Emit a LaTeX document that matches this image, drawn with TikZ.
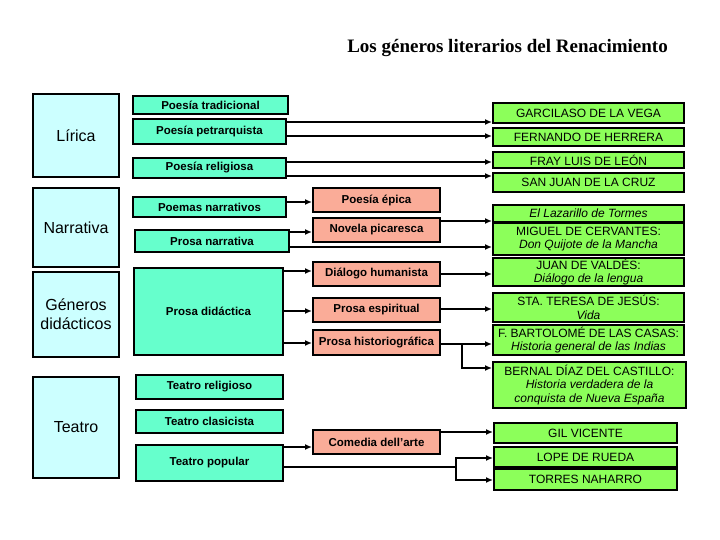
\documentclass[tikz,border=0pt]{standalone}
\usepackage{fontspec}
\setmainfont{Liberation Sans}
\newfontfamily\titlefont{Liberation Serif}
\usetikzlibrary{arrows.meta}
\definecolor{genrefill}{RGB}{204,255,255}
\definecolor{subfill}{RGB}{102,255,204}
\definecolor{kindfill}{RGB}{250,172,152}
\definecolor{authorfill}{RGB}{140,255,90}

\begin{document}
\begin{tikzpicture}[x=1pt, y=-1pt, >={Latex[length=7pt,width=6pt]},
    box/.style={draw=black, line width=2pt, inner sep=0pt, align=center},
    genre/.style={box, fill=genrefill, minimum width=86, font=\fontsize{16}{19}\selectfont},
    sub/.style={box, fill=subfill, font=\bfseries\fontsize{11.5}{13}\selectfont},
    kind/.style={box, fill=kindfill, minimum width=127, minimum height=24, font=\bfseries\fontsize{11.5}{13}\selectfont},
    author/.style={box, fill=authorfill, minimum width=191, font=\fontsize{12}{13.5}\selectfont},
    link/.style={->, line width=2.6pt}]
    \useasboundingbox (0,0) rectangle (720,540);

    \node[font=\titlefont\bfseries\fontsize{19}{22}\selectfont] (title) at (507.5,48) {Los géneros literarios del Renacimiento};

    % genres
    \node[genre, minimum height=83] (lirica) at (76,135.5) {Lírica};
    \node[genre, minimum height=79] (narrativa) at (76,227.5) {Narrativa};
    \node[genre, minimum height=85] (didacticos) at (76,314.5) {Géneros\\didácticos};
    \node[genre, minimum height=101] (teatro) at (76,427.5) {Teatro};

    \node[sub, minimum width=155, minimum height=18] (ptrad) at (210.5,105) {Poesía tradicional};
    \node[sub, minimum width=153, minimum height=25] (ppetr) at (209.5,131.5) {Poesía petrarquista};
    \node[sub, minimum width=153, minimum height=20] (prel) at (209.5,168) {Poesía religiosa};
    \node[sub, minimum width=153, minimum height=20] (pnarr) at (209.5,207) {Poemas narrativos};
    \node[sub, minimum width=154, minimum height=22] (prnarr) at (212,241) {Prosa narrativa};
    \node[sub, minimum width=149, minimum height=87] (prdid) at (208.5,311.5) {Prosa didáctica};
    \node[sub, minimum width=147, minimum height=24] (trel) at (209.5,387) {Teatro religioso};
    \node[sub, minimum width=147, minimum height=23] (tclas) at (209.5,421.5) {Teatro clasicista};
    \node[sub, minimum width=147, minimum height=36] (tpop) at (209.5,463) {Teatro popular};

    \node[kind] (epica) at (376.5,200) {Poesía épica};
    \node[kind] (picaresca) at (376.5,230) {Novela picaresca};
    \node[kind] (dialogo) at (376.5,274) {Diálogo humanista};
    \node[kind] (espiritual) at (376.5,310) {Prosa espiritual};
    \node[kind, minimum height=25] (historio) at (376.5,342.5) {Prosa historiográfica};
    \node[kind] (comedia) at (376.5,442) {Comedia dell’arte};

    % authors
    \node[author, minimum height=20] (garcilaso) at (588.5,113) {GARCILASO DE LA VEGA};
    \node[author, minimum height=18] (herrera) at (588.5,137) {FERNANDO DE HERRERA};
    \node[author, minimum height=16] (leon) at (588.5,160) {FRAY LUIS DE LEÓN};
    \node[author, minimum height=19] (cruz) at (588.5,182.5) {SAN JUAN DE LA CRUZ};
    \node[author, minimum height=17] (lazarillo) at (588.5,213.5) {\textit{El Lazarillo de Tormes}};
    \node[author, minimum height=32] (cervantes) at (588.5,239) {MIGUEL DE CERVANTES:\\\textit{Don Quijote de la Mancha}};
    \node[author, minimum height=28] (valdes) at (588.5,272) {JUAN DE VALDÉS:\\\textit{Diálogo de la lengua}};
    \node[author, minimum height=29] (teresa) at (588.5,307.5) {STA. TERESA DE JESÚS:\\\textit{Vida}};
    \node[author, minimum height=30] (casas) at (588.5,340) {F. BARTOLOMÉ DE LAS CASAS:\\\textit{Historia general de las Indias}};
    \node[author, minimum width=193, minimum height=46] (bernal) at (589.5,385) {BERNAL DÍAZ DEL CASTILLO:\\\textit{Historia verdadera de la}\\\textit{conquista de Nueva España}};
    \node[author, minimum width=183, minimum height=20] (gil) at (585.5,433) {GIL VICENTE};
    \node[author, minimum width=183, minimum height=20] (lope) at (585.5,457) {LOPE DE RUEDA};
    \node[author, minimum width=183, minimum height=21] (torres) at (585.5,479.5) {TORRES NAHARRO};

    \foreach \a/\b/\y in {ppetr/garcilaso/122, ppetr/herrera/136, prel/leon/162, prel/cruz/176,
        pnarr/epica/202, prnarr/picaresca/232, prnarr/cervantes/247, picaresca/lazarillo/221,
        prdid/dialogo/271, prdid/espiritual/311, dialogo/valdes/274, espiritual/teresa/309,
        tpop/comedia/447, comedia/gil/432}
      \draw[link] (\a.east |- 0,\y) -- (\b.west |- 0,\y);

    \coordinate (hsplit) at (462,344);
    \draw[link, line width=1.8pt] (prdid.east |- 0,343) -- (historio.west |- 0,343);
    \draw[link, line width=1.8pt] (historio.east |- hsplit) -- (casas.west |- hsplit);
    \draw[link, line width=1.8pt] (hsplit) |- (bernal.west |- 0,368);

    \coordinate (tsplit) at (456,467);
    \draw[line width=2.6pt] (tpop.east |- tsplit) -- (tsplit);
    \draw[link, line width=2.2pt] (tsplit) |- (lope.west |- 0,458);
    \draw[link, line width=2.2pt] (tsplit) |- (torres.west |- 0,480);
  \end{tikzpicture}
\end{document}
